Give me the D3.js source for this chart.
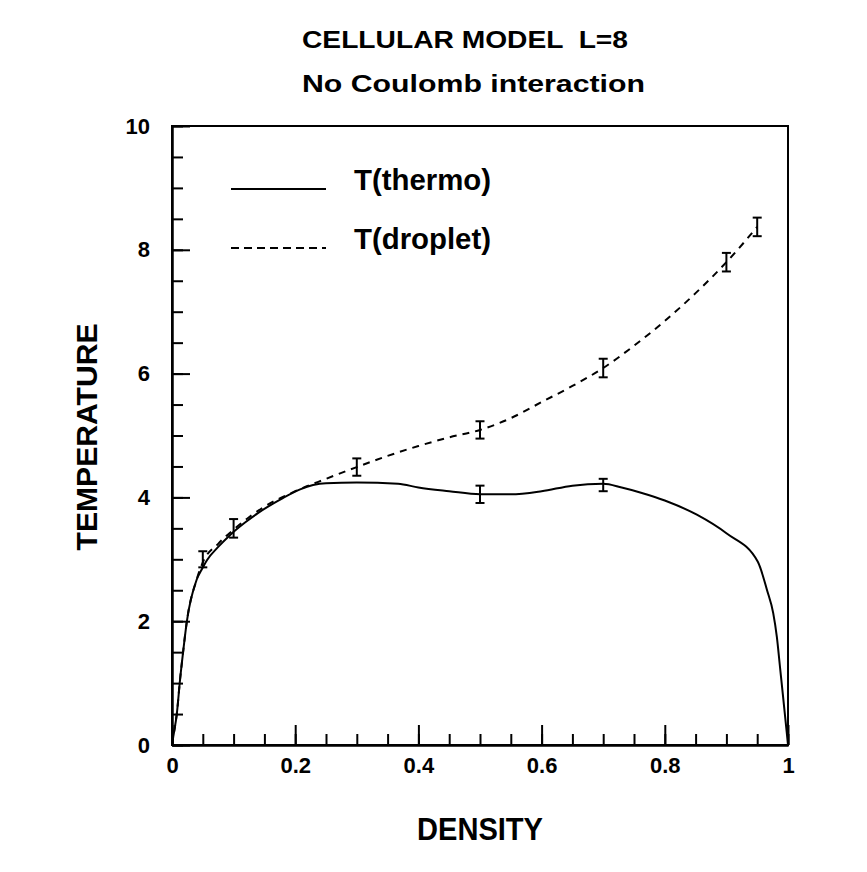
<!DOCTYPE html>
<html>
<head>
<meta charset="utf-8">
<script src="https://cdn.jsdelivr.net/npm/d3@7"></script>
<style>
  body { margin: 0; background: #fff; }
  text { font-family: "Liberation Sans", Arial, sans-serif; font-weight: bold; fill: #000; }
</style>
</head>
<body>
<div id="chart"></div>
<script>
// thermodynamic temperature (solid)
const thermoX = [0, 0.002, 0.008, 0.013, 0.018, 0.024, 0.04, 0.048, 0.057, 0.075, 0.094, 0.118, 0.14, 0.164,
  0.18, 0.208, 0.229, 0.25, 0.3, 0.367, 0.4, 0.45, 0.5, 0.55, 0.6, 0.65, 0.7, 0.73, 0.76, 0.8,
  0.852, 0.9, 0.951, 0.966, 0.976, 0.982, 0.987, 0.992, 0.998, 1];
const thermoT = [0, 0.13, 0.52, 1.05, 1.5, 1.99, 2.67, 2.83, 2.99, 3.2, 3.39, 3.59, 3.75, 3.9,
  3.99, 4.13, 4.2, 4.23, 4.24, 4.22, 4.16, 4.1, 4.05, 4.05, 4.1, 4.19, 4.22, 4.16, 4.08, 3.95,
  3.72, 3.42, 2.96, 2.5, 2.13, 1.74, 1.26, 0.78, 0.2, 0];

// droplet temperature (dashed)
const dropX = [0, 0.002, 0.008, 0.013, 0.018, 0.024, 0.04, 0.05, 0.075, 0.1, 0.125, 0.15, 0.2, 0.25,
  0.3, 0.35, 0.4, 0.45, 0.5, 0.55, 0.6, 0.65, 0.7, 0.75, 0.8, 0.85, 0.9, 0.95];
const dropT = [0, 0.13, 0.52, 1.05, 1.5, 1.99, 2.67, 2.95, 3.25, 3.48, 3.68, 3.85, 4.1, 4.3,
  4.49, 4.67, 4.83, 4.97, 5.09, 5.28, 5.54, 5.8, 6.09, 6.45, 6.85, 7.3, 7.8, 8.37];

// error bars
const dropErrX = [0.05, 0.1, 0.3, 0.5, 0.7, 0.9, 0.95];
const dropErrT = [3.0, 3.5, 4.49, 5.09, 6.09, 7.8, 8.37];
const dropErr = [0.13, 0.15, 0.14, 0.14, 0.15, 0.15, 0.15];
const thermoErrX = [0.5, 0.7];
const thermoErrT = [4.05, 4.2];
const thermoErr = [0.14, 0.1];

const xMajor = [0, 0.2, 0.4, 0.6, 0.8, 1];
const yMajor = [0, 2, 4, 6, 8, 10];
const legendLabels = ['T(thermo)', 'T(droplet)'];

const W = 867, H = 872;
const svg = d3.select('#chart').append('svg')
  .attr('width', W).attr('height', H)
  .style('background-color', '#FFFFFF');

const x = d3.scaleLinear().domain([0, 1]).range([172, 788]);
const y = d3.scaleLinear().domain([0, 10]).range([745, 126]);

// frame
svg.append('rect')
  .attr('x', x(0)).attr('y', y(10))
  .attr('width', x(1) - x(0)).attr('height', y(0) - y(10))
  .attr('fill', 'none').attr('stroke', '#000').attr('stroke-width', 2);

// minor ticks
const xMinor = d3.range(0, 1.0001, 0.05).map(d => +d.toFixed(2));
const yMinor = d3.range(0, 10.0001, 0.5).map(d => +d.toFixed(1));

svg.append('g')
  .attr('transform', 'translate(0,' + y(0) + ')')
  .call(d3.axisBottom(x).tickValues(xMinor).tickSize(-11).tickSizeOuter(0).tickFormat(''))
  .call(g => g.selectAll('line,path').attr('stroke', '#000').attr('stroke-width', 2));

svg.append('g')
  .attr('transform', 'translate(' + x(0) + ',0)')
  .call(d3.axisLeft(y).tickValues(yMinor).tickSize(-11).tickSizeOuter(0).tickFormat(''))
  .call(g => g.selectAll('line,path').attr('stroke', '#000').attr('stroke-width', 2));

// major ticks with labels
const fmt = d3.format('~g');
svg.append('g')
  .attr('transform', 'translate(0,' + y(0) + ')')
  .call(d3.axisBottom(x).tickValues(xMajor).tickSize(-20).tickSizeOuter(0).tickPadding(12).tickFormat(fmt))
  .call(g => g.selectAll('line,path').attr('stroke', '#000').attr('stroke-width', 2))
  .call(g => g.selectAll('text').style('font-size', '22px').attr('fill', '#000'));

svg.append('g')
  .attr('transform', 'translate(' + x(0) + ',0)')
  .call(d3.axisLeft(y).tickValues(yMajor).tickSize(-18).tickSizeOuter(0).tickPadding(22).tickFormat(fmt))
  .call(g => g.selectAll('line,path').attr('stroke', '#000').attr('stroke-width', 2))
  .call(g => g.selectAll('text').style('font-size', '22px').attr('fill', '#000'));

// curves
const line = d3.line().x(d => x(d[0])).y(d => y(d[1])).curve(d3.curveMonotoneX);

svg.append('path')
  .datum(d3.zip(dropX, dropT))
  .attr('d', line)
  .attr('fill', 'none').attr('stroke', '#000').attr('stroke-width', 2)
  .attr('stroke-dasharray', '7,6');

svg.append('path')
  .datum(d3.zip(thermoX, thermoT))
  .attr('d', line)
  .attr('fill', 'none').attr('stroke', '#000').attr('stroke-width', 2);

// error bars
function errorBars(xs, ts, es) {
  const g = svg.append('g').attr('stroke', '#000').attr('stroke-width', 2);
  const data = d3.zip(xs, ts, es);
  g.selectAll('.bar').data(data).enter().append('line')
    .attr('x1', d => x(d[0])).attr('x2', d => x(d[0]))
    .attr('y1', d => y(d[1] - d[2])).attr('y2', d => y(d[1] + d[2]));
  g.selectAll('.capTop').data(data).enter().append('line')
    .attr('x1', d => x(d[0]) - 4.5).attr('x2', d => x(d[0]) + 4.5)
    .attr('y1', d => y(d[1] + d[2])).attr('y2', d => y(d[1] + d[2]));
  g.selectAll('.capBot').data(data).enter().append('line')
    .attr('x1', d => x(d[0]) - 4.5).attr('x2', d => x(d[0]) + 4.5)
    .attr('y1', d => y(d[1] - d[2])).attr('y2', d => y(d[1] - d[2]));
}
errorBars(dropErrX, dropErrT, dropErr);
errorBars(thermoErrX, thermoErrT, thermoErr);

// legend
const legY = [189, 248];
svg.append('line').attr('x1', 231).attr('x2', 326).attr('y1', legY[0]).attr('y2', legY[0])
  .attr('stroke', '#000').attr('stroke-width', 2);
svg.append('line').attr('x1', 231).attr('x2', 326).attr('y1', legY[1]).attr('y2', legY[1])
  .attr('stroke', '#000').attr('stroke-width', 2).attr('stroke-dasharray', '8,5');
svg.selectAll('.leg').data(legendLabels).enter().append('text')
  .attr('x', 354).attr('y', (d, i) => legY[i] + 1)
  .attr('textLength', 137).attr('lengthAdjust', 'spacingAndGlyphs')
  .style('font-size', '29px').text(d => d);

// titles
svg.append('text').attr('x', 302).attr('y', 48)
  .attr('textLength', 326).attr('lengthAdjust', 'spacingAndGlyphs')
  .style('font-size', '23px').attr('xml:space', 'preserve')
  .text('CELLULAR MODEL  L=8');
svg.append('text').attr('x', 302).attr('y', 92)
  .attr('textLength', 343).attr('lengthAdjust', 'spacingAndGlyphs')
  .style('font-size', '24px')
  .text('No Coulomb interaction');

// axis labels
svg.append('text').attr('x', 417).attr('y', 840)
  .attr('textLength', 126).attr('lengthAdjust', 'spacingAndGlyphs')
  .style('font-size', '32px').text('DENSITY');
svg.append('text')
  .attr('transform', 'translate(97,437) rotate(-90)')
  .attr('text-anchor', 'middle')
  .attr('textLength', 227).attr('lengthAdjust', 'spacingAndGlyphs')
  .style('font-size', '30px').text('TEMPERATURE');
</script>
</body>
</html>
